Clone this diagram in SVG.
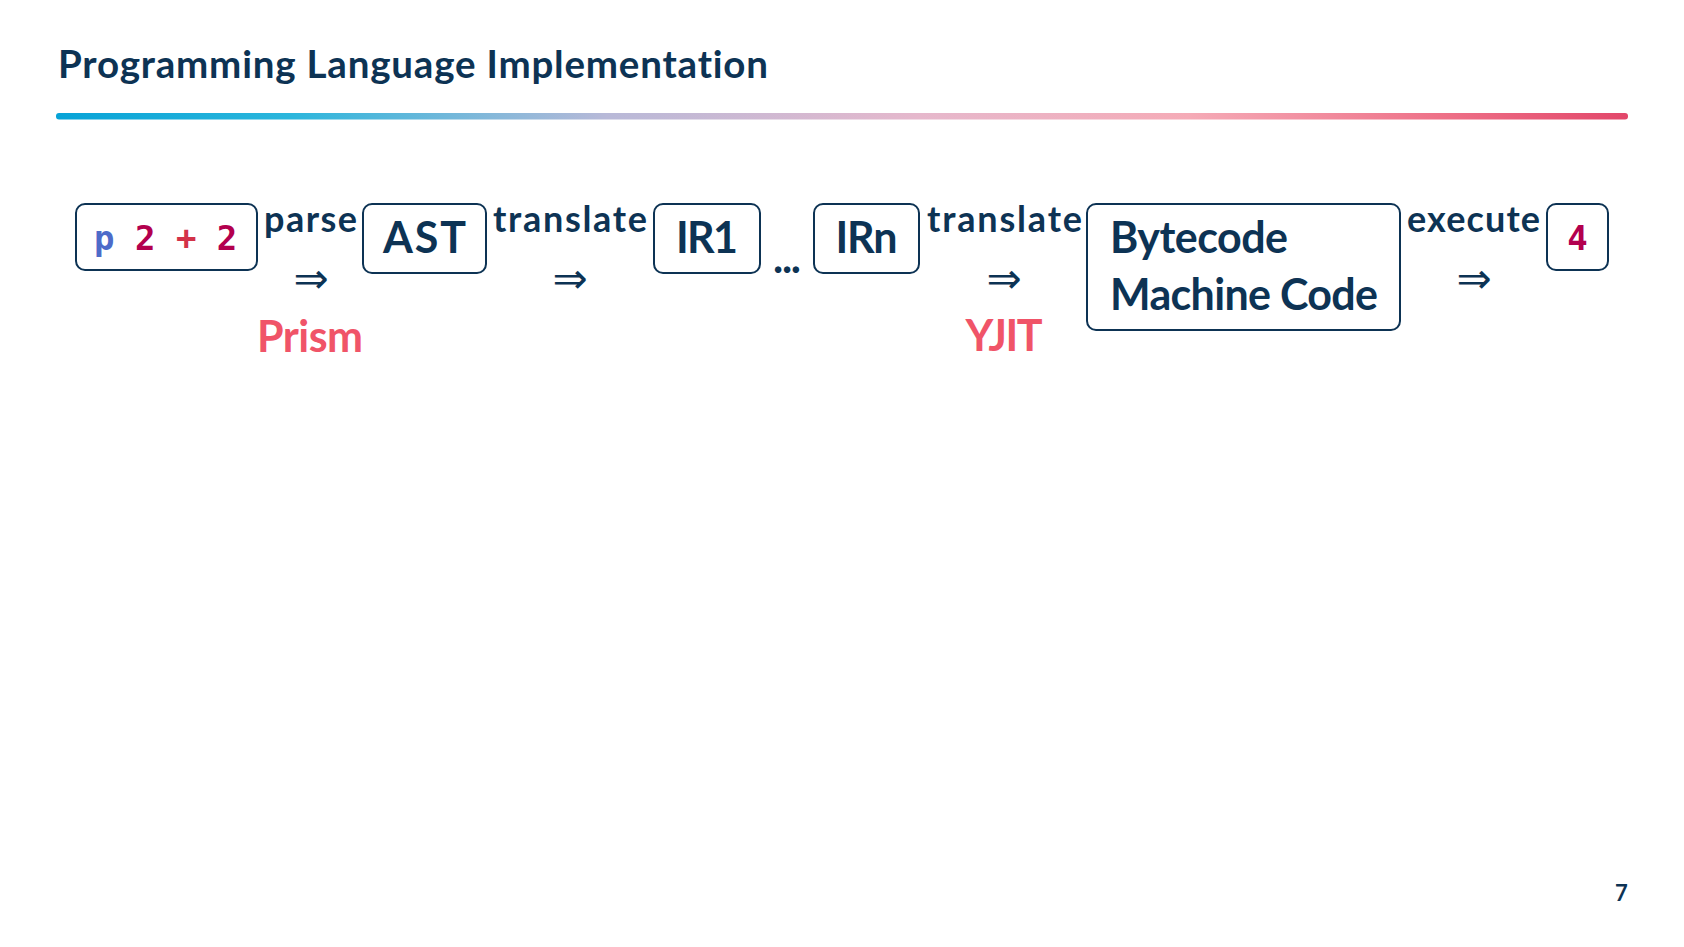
<svg xmlns="http://www.w3.org/2000/svg" width="1684" height="947" viewBox="0 0 1684 947">
  <defs>
    <linearGradient id="rule" x1="0" y1="0" x2="1" y2="0">
      <stop offset="0" stop-color="#07a3d7"/>
      <stop offset="0.15" stop-color="#2bb6dc"/>
      <stop offset="0.35" stop-color="#b8b9d8"/>
      <stop offset="0.55" stop-color="#e6b8cc"/>
      <stop offset="0.72" stop-color="#f5abb7"/>
      <stop offset="0.88" stop-color="#ee7188"/>
      <stop offset="1" stop-color="#e2476a"/>
    </linearGradient>
    <style>
      .t { font-family: Lato, "Noto Sans", sans-serif; font-weight: 700; fill: #0d3354; font-variant-ligatures: none; }
      .lbl { font-size: 36px; }
      .big { font-size: 43px; }
      .accent { fill: #f05468; }
      .box { fill: #ffffff; stroke: #0d3354; stroke-width: 2; }
      .arr { font-family: "DejaVu Sans", sans-serif; font-size: 42px; fill: #0d3354; text-anchor: middle; }
      .mono { font-family: "DejaVu Sans Mono", "Liberation Mono", monospace; font-weight: 700; font-size: 34px; }
    </style>
  </defs>
  <rect width="1684" height="947" fill="#ffffff"/>
  <g id="header">
    <text class="t" x="58" y="78" font-size="38.5" textLength="710" lengthAdjust="spacing">Programming Language Implementation</text>
    <rect x="56" y="113" width="1572" height="6.5" rx="3" fill="url(#rule)"/>
  </g>
  <g id="connectors">
    <g id="c-parse">
      <text class="t lbl" x="264" y="232" textLength="93" lengthAdjust="spacing">parse</text>
      <text class="arr" x="311" y="293">⇒</text>
      <text class="t big accent" x="310" y="352" text-anchor="middle" textLength="106" lengthAdjust="spacing">Prism</text>
    </g>
    <g id="c-translate1">
      <text class="t lbl" x="493" y="232" textLength="154" lengthAdjust="spacing">translate</text>
      <text class="arr" x="570" y="293">⇒</text>
    </g>
    <g id="c-dots">
      <text class="t big" x="773" y="273" textLength="28" lengthAdjust="spacing">...</text>
    </g>
    <g id="c-translate2">
      <text class="t lbl" x="927" y="232" textLength="155" lengthAdjust="spacing">translate</text>
      <text class="arr" x="1004" y="293">⇒</text>
      <text class="t big accent" x="1004" y="351" text-anchor="middle" textLength="77" lengthAdjust="spacing">YJIT</text>
    </g>
    <g id="c-execute">
      <text class="t lbl" x="1407" y="232" textLength="133" lengthAdjust="spacing">execute</text>
      <text class="arr" x="1474" y="293">⇒</text>
    </g>
  </g>
  <g id="n-source">
    <rect class="box" x="76" y="204" width="181" height="66" rx="9"/>
    <text class="mono" x="94" y="250"><tspan fill="#4d6bc9">p</tspan><tspan fill="#b3004e"> 2</tspan><tspan fill="#d33248"> +</tspan><tspan fill="#b3004e"> 2</tspan></text>
  </g>
  <g id="n-ast">
    <rect class="box" x="363" y="204" width="123" height="69" rx="9"/>
    <text class="t big" x="424.5" y="253" text-anchor="middle" textLength="83" lengthAdjust="spacing">AST</text>
  </g>
  <g id="n-ir1">
    <rect class="box" x="654" y="204" width="106" height="69" rx="9"/>
    <text class="t big" x="707" y="253" text-anchor="middle" textLength="62" lengthAdjust="spacing">IR1</text>
  </g>
  <g id="n-irn">
    <rect class="box" x="814" y="204" width="105" height="69" rx="9"/>
    <text class="t big" x="866.5" y="253" text-anchor="middle" textLength="62" lengthAdjust="spacing">IRn</text>
  </g>
  <g id="n-code">
    <rect class="box" x="1087" y="204" width="313" height="126" rx="9"/>
    <text class="t big" x="1110" y="253" textLength="178" lengthAdjust="spacing">Bytecode</text>
    <text class="t big" x="1110" y="310" textLength="268" lengthAdjust="spacing">Machine Code</text>
  </g>
  <g id="n-result">
    <rect class="box" x="1547" y="204" width="61" height="66" rx="9"/>
    <text class="mono" x="1577.5" y="250" text-anchor="middle" fill="#b3004e">4</text>
  </g>
  <g id="page">
    <text class="t" x="1615" y="901" font-size="22">7</text>
  </g>
</svg>
